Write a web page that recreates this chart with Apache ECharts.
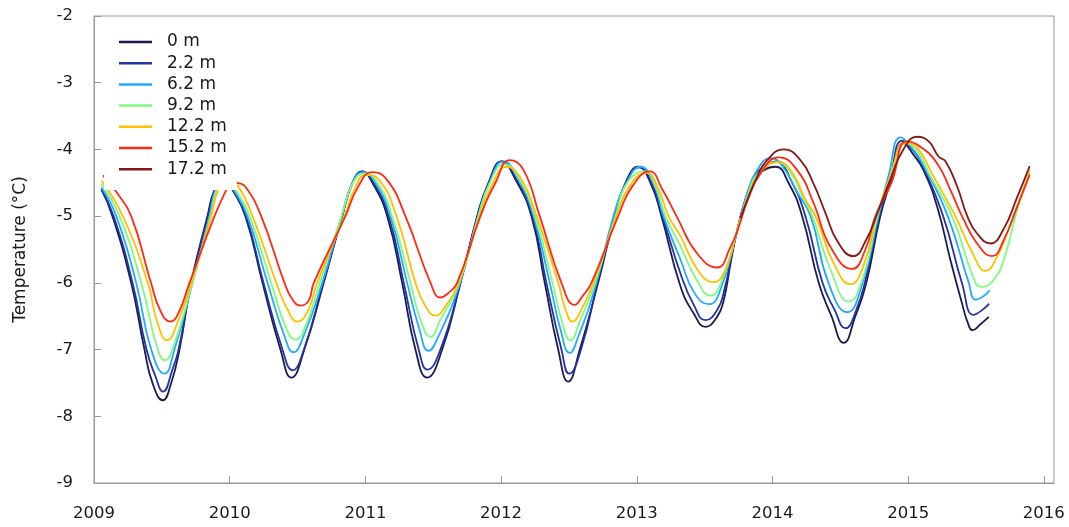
<!DOCTYPE html>
<html>
<head>
<meta charset="utf-8">
<script src="https://cdn.jsdelivr.net/npm/echarts@6/dist/echarts.min.js"></script>
<style>html,body{margin:0;padding:0;background:#fff;}#c{width:1069px;height:527px;}</style>
</head>
<body>
<div id="c"></div>
<script>
const depthNames = ['0 m','2.2 m','6.2 m','9.2 m','12.2 m','15.2 m','17.2 m'];
const depthColors = ['#1c1b4f','#2233a3','#22aaff','#80fa80','#ffc000','#ff2a14','#861818'];
const yTicks = [-9,-8,-7,-6,-5,-4,-3,-2];
const xTicks = [2009,2010,2011,2012,2013,2014,2015,2016];

const d0 = [[2009.055,-4.60],[2009.136,-5.00],[2009.274,-6.00],[2009.372,-7.00],[2009.431,-7.50],[2009.507,-7.76],[2009.569,-7.50],[2009.630,-7.00],[2009.716,-6.00],[2009.836,-5.00],[2009.888,-4.61],[2009.954,-4.45],[2010.021,-4.61],[2010.116,-5.00],[2010.242,-6.00],[2010.374,-7.00],[2010.455,-7.42],[2010.550,-7.00],[2010.693,-6.00],[2010.829,-5.00],[2010.905,-4.50],[2010.976,-4.33],[2011.052,-4.50],[2011.161,-5.00],[2011.271,-6.00],[2011.369,-7.00],[2011.455,-7.42],[2011.566,-7.00],[2011.701,-6.00],[2011.824,-5.00],[2011.907,-4.50],[2012.003,-4.18],[2012.106,-4.45],[2012.224,-5.00],[2012.322,-6.00],[2012.421,-7.00],[2012.494,-7.48],[2012.580,-7.00],[2012.715,-6.00],[2012.838,-5.00],[2012.917,-4.50],[2013.010,-4.26],[2013.101,-4.50],[2013.182,-5.00],[2013.322,-6.05],[2013.420,-6.46],[2013.506,-6.66],[2013.592,-6.51],[2013.641,-6.26],[2013.691,-5.71],[2013.740,-5.21],[2013.801,-4.76],[2013.862,-4.46],[2013.936,-4.31],[2014.022,-4.26],[2014.118,-4.50],[2014.219,-5.00],[2014.341,-6.00],[2014.435,-6.50],[2014.525,-6.90],[2014.611,-6.50],[2014.692,-6.00],[2014.795,-5.00],[2014.869,-4.50],[2014.967,-3.91],[2015.039,-4.08],[2015.113,-4.31],[2015.214,-4.86],[2015.312,-5.66],[2015.400,-6.33],[2015.440,-6.60],[2015.475,-6.71],[2015.533,-6.62],[2015.594,-6.51]];
const d22 = [[2009.055,-4.60],[2009.144,-5.00],[2009.284,-6.00],[2009.387,-7.00],[2009.453,-7.40],[2009.508,-7.63],[2009.578,-7.30],[2009.623,-7.00],[2009.718,-6.00],[2009.840,-5.00],[2009.892,-4.61],[2009.958,-4.45],[2010.024,-4.61],[2010.120,-5.00],[2010.249,-6.00],[2010.389,-7.00],[2010.463,-7.31],[2010.547,-7.00],[2010.689,-6.00],[2010.829,-5.00],[2010.905,-4.50],[2010.979,-4.33],[2011.060,-4.50],[2011.172,-5.00],[2011.283,-6.00],[2011.393,-7.00],[2011.458,-7.30],[2011.553,-7.00],[2011.701,-6.00],[2011.826,-5.00],[2011.911,-4.50],[2012.007,-4.18],[2012.113,-4.45],[2012.231,-5.00],[2012.334,-6.00],[2012.445,-7.00],[2012.502,-7.36],[2012.589,-7.00],[2012.710,-6.00],[2012.836,-5.00],[2012.920,-4.50],[2013.018,-4.27],[2013.108,-4.50],[2013.189,-5.00],[2013.329,-5.90],[2013.420,-6.33],[2013.506,-6.56],[2013.595,-6.40],[2013.646,-6.10],[2013.698,-5.60],[2013.742,-5.20],[2013.805,-4.72],[2013.867,-4.42],[2013.941,-4.25],[2014.035,-4.18],[2014.133,-4.45],[2014.243,-5.00],[2014.369,-6.00],[2014.457,-6.40],[2014.538,-6.68],[2014.619,-6.40],[2014.692,-5.90],[2014.788,-5.00],[2014.862,-4.50],[2014.956,-3.87],[2015.030,-4.00],[2015.106,-4.25],[2015.258,-5.00],[2015.396,-6.00],[2015.481,-6.48],[2015.538,-6.42],[2015.597,-6.31]];
const d62 = [[2009.055,-4.57],[2009.164,-5.00],[2009.311,-6.00],[2009.422,-7.00],[2009.520,-7.36],[2009.593,-7.00],[2009.726,-6.00],[2009.851,-5.00],[2009.895,-4.61],[2009.962,-4.45],[2010.028,-4.60],[2010.131,-5.00],[2010.279,-6.00],[2010.404,-6.80],[2010.470,-7.04],[2010.544,-6.80],[2010.682,-6.00],[2010.826,-5.00],[2010.905,-4.50],[2010.984,-4.34],[2011.074,-4.50],[2011.185,-5.00],[2011.308,-6.00],[2011.399,-6.70],[2011.465,-7.02],[2011.539,-6.80],[2011.697,-6.00],[2011.830,-5.00],[2011.914,-4.50],[2012.018,-4.18],[2012.121,-4.42],[2012.239,-5.00],[2012.359,-6.00],[2012.438,-6.70],[2012.506,-7.05],[2012.570,-6.80],[2012.703,-6.00],[2012.828,-5.00],[2012.924,-4.50],[2013.027,-4.26],[2013.123,-4.50],[2013.197,-5.00],[2013.322,-5.65],[2013.425,-6.15],[2013.531,-6.32],[2013.617,-6.10],[2013.742,-5.20],[2013.814,-4.66],[2013.887,-4.31],[2013.985,-4.13],[2014.074,-4.25],[2014.170,-4.60],[2014.281,-5.00],[2014.413,-6.00],[2014.551,-6.44],[2014.664,-6.00],[2014.781,-5.00],[2014.855,-4.40],[2014.944,-3.82],[2015.017,-3.95],[2015.128,-4.30],[2015.292,-5.00],[2015.447,-6.00],[2015.496,-6.25],[2015.555,-6.20],[2015.601,-6.11]];
const d92 = [[2009.055,-4.52],[2009.188,-5.00],[2009.348,-6.00],[2009.470,-7.00],[2009.523,-7.16],[2009.578,-7.00],[2009.726,-6.00],[2009.859,-5.00],[2009.903,-4.61],[2009.969,-4.45],[2010.035,-4.58],[2010.146,-5.00],[2010.306,-6.00],[2010.411,-6.65],[2010.485,-6.85],[2010.559,-6.65],[2010.664,-6.00],[2010.824,-5.00],[2010.909,-4.50],[2010.993,-4.36],[2011.089,-4.50],[2011.197,-5.00],[2011.332,-6.00],[2011.406,-6.55],[2011.480,-6.81],[2011.553,-6.55],[2011.693,-6.00],[2011.833,-5.00],[2011.918,-4.50],[2012.025,-4.22],[2012.128,-4.42],[2012.250,-5.00],[2012.379,-6.00],[2012.445,-6.55],[2012.511,-6.86],[2012.585,-6.55],[2012.692,-6.00],[2012.843,-5.00],[2012.931,-4.50],[2013.059,-4.33],[2013.138,-4.55],[2013.212,-5.00],[2013.322,-5.45],[2013.440,-5.95],[2013.543,-6.19],[2013.631,-5.95],[2013.742,-5.20],[2013.816,-4.70],[2013.897,-4.35],[2014.035,-4.19],[2014.133,-4.35],[2014.221,-4.70],[2014.295,-5.00],[2014.428,-5.80],[2014.563,-6.28],[2014.671,-5.90],[2014.774,-5.00],[2014.869,-4.40],[2014.992,-3.91],[2015.075,-4.05],[2015.164,-4.40],[2015.324,-5.00],[2015.496,-6.00],[2015.545,-6.06],[2015.628,-5.96],[2015.704,-5.66],[2015.803,-4.91],[2015.896,-4.31]];
const d122 = [[2009.055,-4.47],[2009.212,-5.00],[2009.396,-6.00],[2009.468,-6.60],[2009.539,-6.86],[2009.615,-6.60],[2009.716,-6.00],[2009.864,-5.00],[2009.917,-4.60],[2009.984,-4.45],[2010.050,-4.52],[2010.168,-5.00],[2010.343,-6.00],[2010.426,-6.40],[2010.500,-6.58],[2010.581,-6.40],[2010.645,-6.00],[2010.846,-5.00],[2010.920,-4.60],[2011.001,-4.38],[2011.097,-4.45],[2011.229,-5.00],[2011.369,-6.00],[2011.443,-6.35],[2011.517,-6.49],[2011.590,-6.35],[2011.686,-6.00],[2011.841,-5.00],[2011.929,-4.55],[2012.040,-4.26],[2012.151,-4.45],[2012.261,-5.00],[2012.421,-6.00],[2012.475,-6.40],[2012.526,-6.58],[2012.592,-6.40],[2012.681,-6.00],[2012.850,-5.00],[2012.946,-4.55],[2013.071,-4.35],[2013.160,-4.60],[2013.234,-5.00],[2013.322,-5.30],[2013.447,-5.80],[2013.565,-5.99],[2013.653,-5.80],[2013.742,-5.20],[2013.823,-4.70],[2013.911,-4.35],[2014.046,-4.19],[2014.147,-4.35],[2014.243,-4.75],[2014.317,-5.00],[2014.450,-5.70],[2014.575,-6.02],[2014.678,-5.70],[2014.767,-5.00],[2014.869,-4.40],[2014.980,-3.90],[2015.068,-3.98],[2015.186,-4.40],[2015.348,-5.00],[2015.474,-5.55],[2015.570,-5.82],[2015.658,-5.60],[2015.739,-5.20],[2015.813,-4.80],[2015.896,-4.35]];
const d152 = [[2009.066,-4.39],[2009.158,-4.62],[2009.274,-5.00],[2009.420,-6.00],[2009.490,-6.42],[2009.564,-6.58],[2009.623,-6.45],[2009.704,-6.00],[2009.888,-5.00],[2009.974,-4.61],[2010.013,-4.48],[2010.057,-4.50],[2010.116,-4.56],[2010.232,-5.00],[2010.404,-6.00],[2010.463,-6.25],[2010.522,-6.34],[2010.581,-6.27],[2010.620,-6.00],[2010.853,-5.00],[2010.949,-4.55],[2011.050,-4.34],[2011.161,-4.46],[2011.295,-5.00],[2011.480,-6.00],[2011.553,-6.22],[2011.612,-6.15],[2011.676,-6.00],[2011.848,-5.00],[2011.959,-4.50],[2012.064,-4.16],[2012.163,-4.30],[2012.285,-5.00],[2012.445,-6.00],[2012.543,-6.33],[2012.600,-6.20],[2012.666,-6.00],[2012.863,-5.00],[2012.968,-4.55],[2013.096,-4.33],[2013.189,-4.60],[2013.293,-5.00],[2013.445,-5.56],[2013.592,-5.77],[2013.691,-5.46],[2013.752,-5.16],[2013.814,-4.78],[2013.912,-4.36],[2014.046,-4.12],[2014.182,-4.31],[2014.304,-4.81],[2014.427,-5.46],[2014.587,-5.79],[2014.685,-5.50],[2014.759,-5.00],[2014.877,-4.50],[2014.992,-3.88],[2015.090,-3.96],[2015.214,-4.21],[2015.312,-4.61],[2015.397,-5.00],[2015.508,-5.41],[2015.618,-5.60],[2015.704,-5.36],[2015.803,-4.86],[2015.896,-4.38]];
const d172 = [[2013.764,-5.03],[2013.814,-4.76],[2013.887,-4.41],[2013.961,-4.16],[2014.083,-4.00],[2014.206,-4.16],[2014.300,-4.50],[2014.390,-4.95],[2014.480,-5.38],[2014.595,-5.60],[2014.692,-5.35],[2014.774,-4.95],[2014.869,-4.45],[2014.965,-4.00],[2015.066,-3.81],[2015.152,-3.88],[2015.226,-4.11],[2015.276,-4.18],[2015.362,-4.56],[2015.436,-5.00],[2015.508,-5.26],[2015.607,-5.41],[2015.702,-5.20],[2015.803,-4.72],[2015.896,-4.25]];

const seriesData = [d0, d22, d62, d92, d122, d152, d172];
const fontFam = 'DejaVu Sans';

const chart = echarts.init(document.getElementById('c'), null, {renderer: 'canvas'});
chart.setOption({
  animation: false,
  backgroundColor: '#fff',
  grid: {left: 94, right: 15, top: 16, bottom: 44, show: true, borderColor: '#999', borderWidth: 1, backgroundColor: 'transparent'},
  graphic: {elements: [{type: 'rect', z: 50, silent: true, shape: {x: 104, y: 20, width: 133, height: 170}, style: {fill: '#fff'}}]},
  legend: {
    orient: 'vertical', left: 104, top: 24, z: 60,
    padding: [8, 10, 11, 15],
    icon: 'rect', itemWidth: 33, itemHeight: 2.5, itemGap: 1.2,
    textStyle: {fontFamily: fontFam, fontSize: 17, color: '#1a1a1a', lineHeight: 20, padding: [0, 0, 0, 10]},
    data: depthNames
  },
  xAxis: {
    type: 'value', min: xTicks[0], max: 2016.075, interval: 1,
    axisLine: {lineStyle: {color: '#999'}},
    axisTick: {inside: true, length: 7, lineStyle: {color: '#999'}},
    splitLine: {show: false},
    axisLabel: {showMaxLabel: false, margin: 22, fontFamily: fontFam, fontSize: 16.5, color: '#1a1a1a',
      formatter: v => xTicks.indexOf(v) >= 0 ? String(v) : ''}
  },
  yAxis: {
    type: 'value', min: yTicks[0], max: yTicks[yTicks.length-1], interval: 1,
    name: 'Temperature (°C)', nameLocation: 'middle', nameGap: 65,
    nameTextStyle: {fontFamily: fontFam, fontSize: 17, color: '#1a1a1a'},
    axisLine: {show: true, lineStyle: {color: '#999'}},
    axisTick: {show: true, inside: true, length: 7, lineStyle: {color: '#999'}},
    splitLine: {show: false},
    axisLabel: {margin: 21, fontFamily: fontFam, fontSize: 16.5, color: '#1a1a1a'}
  },
  series: seriesData.map((d, i) => ({
    name: depthNames[i], type: 'line', data: d,
    showSymbol: false, symbol: 'none', smooth: 0.5,
    lineStyle: {width: 1.8, color: depthColors[i]},
    itemStyle: {color: depthColors[i]},
    z: 2 + i * 0.01
  }))
});
</script>
</body>
</html>
